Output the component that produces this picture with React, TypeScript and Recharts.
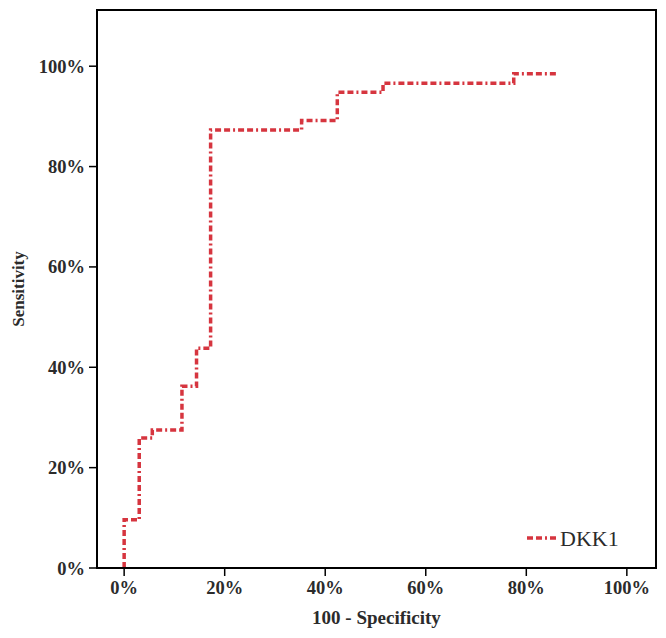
import { LineChart, Line, XAxis, YAxis, ReferenceArea } from 'recharts';

// ROC curve for DKK1 (stepAfter: x = 100 - specificity, y = sensitivity)
const FPR = [0, 0, 3.0, 5.6, 11.5, 14.4, 17.2, 35.3, 42.4, 51.5, 77.5, 85.9];
const TPR = [0, 9.6, 25.9, 27.5, 36.2, 43.8, 87.3, 89.2, 94.8, 96.6, 98.5, 98.5];
const TICKS = [0, 20, 40, 60, 80, 100];
const SERIES_NAME = 'DKK1';

const X_DOMAIN: [number, number] = [-5.4, 105.8];
const Y_DOMAIN: [number, number] = [0, 111.2];

const RED = '#d6353f';
const DASH = '6 3 6 3 2 3';
const FONT = '"Liberation Serif", "DejaVu Serif", serif';
const TEXT = '#2b2b2b';

const data = FPR.map((x, i) => ({ fpr: x, tpr: TPR[i] }));

const pct = (v: number) => `${v}%`;

export default function App() {
  return (
    <div style={{ position: 'absolute', left: 0, top: 0, width: 666, height: 638, background: '#fff' }}>
      <LineChart width={666} height={638} data={data} margin={{ top: 10, right: 10, bottom: 0, left: 0 }}>
        <XAxis
          dataKey="fpr"
          type="number"
          domain={X_DOMAIN}
          ticks={TICKS}
          allowDataOverflow
          tickFormatter={pct}
          height={70}
          tickSize={8}
          tickMargin={5}
          axisLine={{ stroke: '#000', strokeWidth: 2 }}
          tickLine={{ stroke: '#000', strokeWidth: 1.5 }}
          tick={{ fill: TEXT, fontFamily: FONT, fontSize: 18.5, fontWeight: 'bold' }}
          label={{
            value: '100 - Specificity',
            position: 'insideBottom',
            offset: 14,
            fill: TEXT,
            fontFamily: FONT,
            fontSize: 19,
            fontWeight: 'bold',
          }}
        />
        <YAxis
          type="number"
          domain={Y_DOMAIN}
          ticks={TICKS}
          allowDataOverflow
          tickFormatter={pct}
          width={97}
          tickSize={8}
          tickMargin={4}
          axisLine={{ stroke: '#000', strokeWidth: 2 }}
          tickLine={{ stroke: '#000', strokeWidth: 1.5 }}
          tick={{ fill: TEXT, fontFamily: FONT, fontSize: 18.5, fontWeight: 'bold' }}
          label={{
            value: 'Sensitivity',
            angle: -90,
            position: 'insideLeft',
            offset: 18,
            style: { textAnchor: 'middle' },
            fill: TEXT,
            fontFamily: FONT,
            fontSize: 17,
            fontWeight: 'bold',
          }}
        />
        <ReferenceArea
          x1={X_DOMAIN[0]}
          x2={X_DOMAIN[1]}
          y1={Y_DOMAIN[0]}
          y2={Y_DOMAIN[1]}
          fill="none"
          stroke="#000"
          strokeWidth={2}
          ifOverflow="extendDomain"
        />
        <Line
          type="stepAfter"
          dataKey="tpr"
          name={SERIES_NAME}
          stroke={RED}
          strokeWidth={3.5}
          strokeDasharray={DASH}
          dot={false}
          isAnimationActive={false}
        />
      </LineChart>
      <div style={{ position: 'absolute', left: 524, top: 522 }}>
        <svg width={130} height={32}>
          <line x1={3} y1={16} x2={33} y2={16} stroke={RED} strokeWidth={3.5} strokeDasharray={DASH} />
          <text x={36} y={24} fontFamily={FONT} fontSize={22} fill={TEXT}>
            {SERIES_NAME}
          </text>
        </svg>
      </div>
    </div>
  );
}
